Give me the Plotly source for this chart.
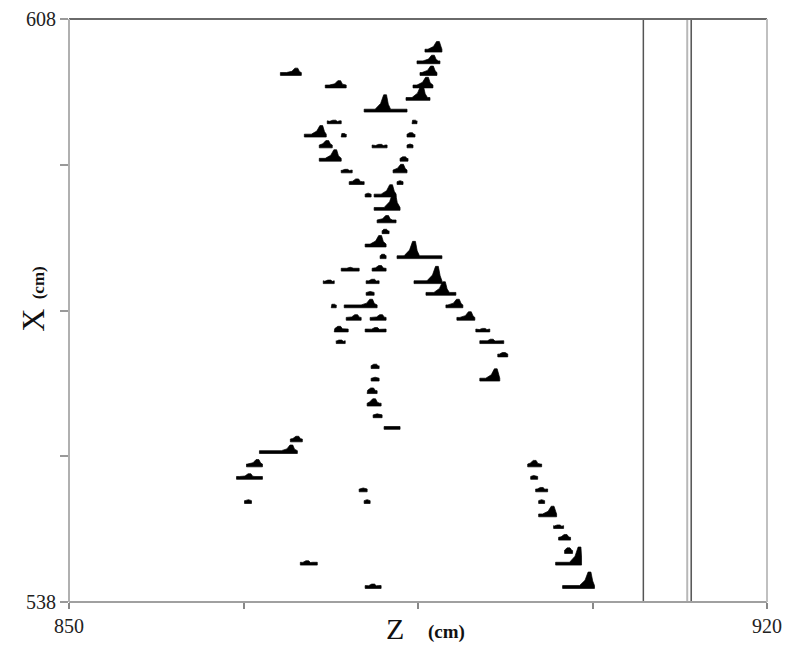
import plotly.graph_objects as go

# Reconstructed hit pulses: each row is a small histogram drawn on a baseline.
# z_left / z_right: extent of the baseline (cm), z_peak: peak position (cm),
# x_base: X position of the baseline (cm), peak_h: peak height (cm of X axis)
z_left = [885.7, 884.9, 885.2, 884.5, 883.8, 871.2, 875.7, 879.6, 875.9, 884.4,
          873.6, 877.3, 883.9, 875.1, 880.4, 883.9, 875.1, 883.2, 882.5, 877.3,
          878.1, 882.9, 879.7, 880.6, 880.6, 880.9, 881.4, 879.7, 882.9, 881.2,
          877.3, 880.4, 884.6, 875.5, 879.8, 885.8, 879.8, 876.3, 877.6, 887.8,
          877.8, 880.2, 888.9, 876.6, 879.7, 890.8, 876.8, 891.2, 893.0, 880.3,
          880.3, 891.2, 879.9, 879.9, 880.5, 881.6, 872.2, 869.1, 867.8, 866.8,
          879.1, 867.6, 879.6, 896.0, 896.3, 896.8, 897.1, 897.1, 898.6, 899.1,
          899.7, 898.8, 873.2, 899.5, 879.7]
z_right = [887.4, 887.2, 886.9, 886.5, 886.2, 873.3, 877.8, 883.9, 877.3, 884.9,
           875.8, 877.8, 884.7, 876.4, 881.9, 884.5, 877.3, 884.0, 883.9, 878.4,
           879.6, 883.5, 880.3, 882.8, 883.2, 882.8, 882.1, 881.8, 887.4, 881.8,
           879.1, 881.8, 887.4, 876.6, 881.1, 888.8, 880.6, 876.8, 880.9, 889.5,
           879.3, 881.8, 890.7, 878.0, 881.8, 892.2, 877.7, 893.6, 894.0, 881.1,
           881.1, 893.2, 880.9, 881.3, 881.4, 883.2, 873.4, 872.9, 869.4, 869.4,
           879.9, 868.3, 880.2, 897.4, 897.0, 898.0, 897.7, 898.9, 899.6, 900.3,
           900.5, 901.4, 874.9, 902.7, 881.3]
z_peak = [887.0, 886.5, 886.4, 885.9, 885.4, 872.8, 877.1, 881.7, 876.6, 884.6,
          875.3, 877.5, 884.3, 875.9, 881.2, 884.2, 876.7, 883.6, 883.4, 877.8,
          878.9, 883.2, 880.0, 882.3, 882.6, 881.9, 881.7, 881.2, 884.6, 881.5,
          878.2, 881.2, 886.9, 876.1, 880.5, 887.6, 880.2, 876.5, 880.3, 889.0,
          878.8, 881.3, 890.2, 877.1, 880.8, 891.6, 877.2, 892.4, 893.6, 880.7,
          880.7, 892.8, 880.4, 880.6, 880.9, 882.4, 872.9, 872.3, 868.9, 868.1,
          879.5, 868.0, 879.9, 896.7, 896.6, 897.4, 897.4, 898.5, 899.1, 899.8,
          900.1, 901.2, 873.9, 902.2, 880.5]
x_base = [604.2, 602.8, 601.4, 599.9, 598.4, 601.4, 599.9, 597.0, 595.6, 595.6,
          594.0, 594.0, 594.0, 592.7, 592.7, 592.7, 591.1, 591.1, 589.7, 589.7,
          588.3, 588.3, 586.8, 586.8, 585.2, 583.7, 582.4, 580.8, 579.4, 579.4,
          577.9, 577.9, 576.4, 576.4, 576.4, 575.0, 575.0, 573.5, 573.5, 573.5,
          572.0, 572.0, 572.0, 570.6, 570.6, 570.6, 569.2, 569.2, 567.6, 566.2,
          564.7, 564.7, 563.2, 561.7, 560.3, 558.9, 557.4, 556.0, 554.4, 552.9,
          551.4, 550.0, 550.0, 554.4, 552.9, 551.4, 550.0, 548.4, 547.0, 545.6,
          544.0, 542.6, 542.6, 539.8, 539.8]
peak_h = [1.1, 0.85, 0.95, 1.1, 1.55, 0.7, 0.7, 1.9, 0.25, 0.25,
          1.2, 0.25, 0.35, 0.7, 0.25, 0.12, 1.2, 0.35, 0.85, 0.25,
          0.5, 0.12, 0.12, 1.3, 1.9, 0.7, 0.35, 1.2, 1.9, 0.35,
          0.12, 0.5, 1.9, 0.25, 0.35, 1.45, 0.12, 0.25, 0.85, 0.85,
          0.5, 0.5, 0.85, 0.5, 0.35, 0.25, 0.25, 0.35, 0.35, 0.35,
          0.12, 1.3, 0.5, 0.7, 0.12, 0.0, 0.5, 0.85, 0.7, 0.5,
          0.12, 0.12, 0.12, 0.6, 0.12, 0.35, 0.12, 1.1, 0.25, 0.5,
          0.5, 2.0, 0.35, 1.8, 0.35]

# Reference planes (vertical lines), Z in cm
plane_z = [907.6, 912.0, 912.4]
plane_colors = ["#555555", "#b8b8b8", "#5a5a5a"]
plane_widths = [1.5, 2.0, 1.6]

z_range = [850, 920]
x_range = [538, 608]
z_ticks = [850, 867.5, 885, 902.5, 920]
z_ticktext = ["850", "", "", "", "920"]
x_ticks = [538, 555.5, 573, 590.5, 608]
x_ticktext = ["538", "", "", "", "608"]

SERIF = "Liberation Serif, Times New Roman, serif"


def pulse_outline(zl, zr, zp, xb, h):
    """Outline of one pulse: a thin baseline bar with a peak on top."""
    half = 0.17
    bot, top = xb - half, xb + half
    pts = [(zl, bot), (zl, top)]
    if h > 0.2:
        lf = max(zl, zp - 1.0)
        rf = min(zr, zp + 0.55)
        pts += [(lf, top),
                (max(lf, zp - 0.45), xb + 0.45 * h),
                (max(lf, zp - 0.14), xb + h),
                (min(rf, zp + 0.14), xb + h),
                (min(rf, zp + 0.32), xb + 0.4 * h),
                (rf, top)]
    elif h > 0.05:
        pts += [(max(zl, zp - 0.35), top), (zp, xb + half + h),
                (min(zr, zp + 0.35), top)]
    pts += [(zr, top), (zr, bot), (zl, bot)]
    return pts


xs, ys = [], []
for zl, zr, zp, xb, h in zip(z_left, z_right, z_peak, x_base, peak_h):
    for px, py in pulse_outline(zl, zr, zp, xb, h):
        xs.append(px)
        ys.append(py)
    xs.append(None)
    ys.append(None)

fig = go.Figure()
fig.add_trace(go.Scatter(
    x=xs, y=ys, mode="lines", fill="toself",
    fillcolor="black", line=dict(color="black", width=0.7),
    hoverinfo="skip", showlegend=False,
))

for zv, col, w in zip(plane_z, plane_colors, plane_widths):
    fig.add_shape(type="line", x0=zv, x1=zv, y0=x_range[0], y1=x_range[1],
                  xref="x", yref="y", line=dict(color=col, width=w))

# Frame around the plot area
frame = [
    (0, 1, 1, 1, "#6a6a6a", 2.0),   # top
    (0, 1, 0, 0, "#a0a0a0", 2.0),   # bottom
    (0, 0, 0, 1, "#b0b0b0", 2.0),   # left
    (1, 1, 0, 1, "#c0c0c0", 2.0),   # right
]
for x0, x1, y0, y1, col, w in frame:
    fig.add_shape(type="line", xref="paper", yref="paper",
                  x0=x0, x1=x1, y0=y0, y1=y1, line=dict(color=col, width=w))

fig.update_xaxes(
    range=z_range, tickvals=z_ticks, ticktext=z_ticktext,
    ticks="outside", ticklen=6, tickwidth=1.5, tickcolor="#888888",
    showgrid=False, zeroline=False, showline=False, automargin=False,
    tickfont=dict(family=SERIF, size=20, color="#222222"),
)
fig.update_yaxes(
    range=x_range, tickvals=x_ticks, ticktext=x_ticktext,
    ticks="outside", ticklen=8, tickwidth=1.5, tickcolor="#999999",
    showgrid=False, zeroline=False, showline=False, automargin=False,
    tickfont=dict(family=SERIF, size=20, color="#222222"),
)

# Axis titles: large letter with a smaller unit
fig.add_annotation(text="Z", xref="x", yref="paper", x=882.7, y=-0.046,
                   yanchor="middle", xanchor="center", showarrow=False,
                   font=dict(family=SERIF, size=30, color="#111111"))
fig.add_annotation(text="<b>(cm)</b>", xref="x", yref="paper", x=887.9, y=-0.052,
                   yanchor="middle", xanchor="center", showarrow=False,
                   font=dict(family=SERIF, size=19, color="#111111"))
fig.add_annotation(text="X", xref="paper", yref="y", x=-0.0516, y=571.9,
                   xanchor="center", yanchor="middle", textangle=-90,
                   showarrow=False,
                   font=dict(family=SERIF, size=32, color="#111111"))
fig.add_annotation(text="<b>(cm)</b>", xref="paper", yref="y", x=-0.044, y=576.3,
                   xanchor="center", yanchor="middle", textangle=-90,
                   showarrow=False,
                   font=dict(family=SERIF, size=17, color="#111111"))

fig.update_layout(
    width=787, height=652,
    margin=dict(l=69, r=20, t=19, b=50, autoexpand=False),
    paper_bgcolor="white", plot_bgcolor="white",
    showlegend=False,
)

fig.write_html("out.html")
